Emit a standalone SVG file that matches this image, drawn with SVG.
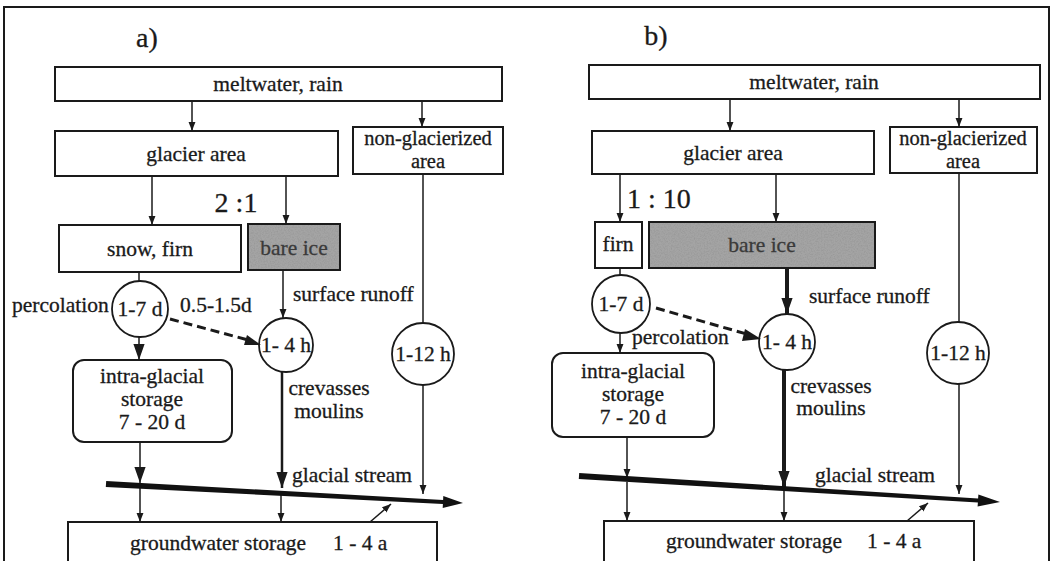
<svg xmlns="http://www.w3.org/2000/svg" width="1054" height="561" viewBox="0 0 1054 561">
<defs>
<style>
.box{fill:#fff;stroke:#1a1a1a;stroke-width:2}
.ice{fill:#a4a4a4;stroke:#1a1a1a;stroke-width:2}
.circ{fill:#fff;stroke:#1a1a1a;stroke-width:1.8}
.t{font-family:"Liberation Serif","Times New Roman",serif;font-size:21.5px;fill:#1a1a1a;stroke:#1a1a1a;stroke-width:0.3}
.m{text-anchor:middle}
.big{font-size:28px}
.ng{font-size:20.5px}
.icet{fill:#3a3a3a;stroke:#3a3a3a}
.ln{stroke:#1a1a1a;stroke-width:1.5;fill:none}
.med{stroke:#1a1a1a;stroke-width:2.5;fill:none}
.thick{stroke:#1a1a1a;stroke-width:4;fill:none}
.dash{stroke:#1a1a1a;stroke-width:3;stroke-dasharray:9 5;fill:none}
.stream{fill:#111;stroke:none}
</style>
<marker id="ah" viewBox="0 0 10 10" refX="10" refY="5" markerWidth="9" markerHeight="9" markerUnits="userSpaceOnUse" orient="auto"><path d="M0,1.2 L10,5 L0,8.8 z" fill="#1a1a1a"/></marker>
<marker id="ahb" viewBox="0 0 10 10" refX="10" refY="5" markerWidth="16" markerHeight="16" markerUnits="userSpaceOnUse" orient="auto"><path d="M0,1.5 L10,5 L0,8.5 z" fill="#1a1a1a"/></marker>
<filter id="grain" x="0" y="0" width="100%" height="100%">
<feTurbulence type="fractalNoise" baseFrequency="0.7" numOctaves="2" seed="5" result="n"/>
<feColorMatrix in="n" type="matrix" values="0 0 0 0 0.3  0 0 0 0 0.3  0 0 0 0 0.3  0 0 0 1.6 -0.6" result="d"/>
<feComposite in="d" in2="SourceGraphic" operator="in"/>
</filter>
</defs>
<rect width="1054" height="561" fill="#fff"/>
<rect id="frame" x="4" y="7" width="1045" height="570" fill="none" stroke="#1a1a1a" stroke-width="2"/>

<!-- Panel a -->
<g id="a-label"><text class="t big" x="147" y="47" text-anchor="middle">a)</text></g>
<g id="a-melt"><rect class="box" x="55" y="67" width="447" height="34"/><text class="t m" x="278" y="91">meltwater, rain</text></g>
<g id="a-glacier"><rect class="box" x="55" y="131" width="283" height="45"/><text class="t m" x="196" y="161">glacier area</text></g>
<g id="a-nonglac"><rect class="box" x="353" y="127" width="150" height="47"/><text class="t m ng" x="428" y="145">non-glacierized</text><text class="t m ng" x="428" y="168">area</text></g>
<g id="a-ratio"><text class="t big" x="236" y="212" text-anchor="middle">2 :1</text></g>
<g id="a-snow"><rect class="box" x="59" y="225" width="182" height="47"/><text class="t m" x="150" y="256">snow, firn</text></g>
<g id="a-ice"><rect class="ice" x="248" y="224" width="92" height="46"/><rect x="249" y="225" width="90" height="44" fill="#fff" filter="url(#grain)"/><text class="t m icet" x="294" y="255">bare ice</text></g>
<g id="a-c17"><circle class="circ" cx="140" cy="309" r="28"/><text class="t m" x="140" y="316">1-7 d</text></g>
<g id="a-c14"><circle class="circ" cx="286" cy="345" r="27"/><text class="t m" x="286" y="352">1- 4 h</text></g>
<g id="a-c112"><circle class="circ" cx="423" cy="354" r="31"/><text class="t m" x="423" y="361">1-12 h</text></g>
<g id="a-intra"><rect class="box" x="73" y="360" width="159" height="82" rx="11"/><text class="t m" x="152" y="383">intra-glacial</text><text class="t m" x="152" y="406">storage</text><text class="t m" x="152" y="429">7 - 20 d</text></g>
<g id="a-ground"><rect class="box" x="68" y="522" width="369" height="50"/><text class="t" x="130" y="550">groundwater storage</text><text class="t" x="333" y="550">1 - 4 a</text></g>
<g id="a-labels">
<text class="t" x="12" y="312">percolation</text>
<text class="t" x="180" y="312">0.5-1.5d</text>
<text class="t" x="293" y="301">surface runoff</text>
<text class="t m" x="329" y="395">crevasses</text>
<text class="t m" x="329" y="418">moulins</text>
<text class="t" x="292" y="482">glacial stream</text>
</g>

<!-- Panel b -->
<g id="b-label"><text class="t big" x="656" y="45" text-anchor="middle">b)</text></g>
<g id="b-melt"><rect class="box" x="589" y="65" width="451" height="34"/><text class="t m" x="814" y="89">meltwater, rain</text></g>
<g id="b-glacier"><rect class="box" x="592" y="131" width="282" height="43"/><text class="t m" x="733" y="160">glacier area</text></g>
<g id="b-nonglac"><rect class="box" x="890" y="127" width="147" height="46"/><text class="t m ng" x="963" y="145">non-glacierized</text><text class="t m ng" x="963" y="168">area</text></g>
<g id="b-ratio"><text class="t big" x="627" y="208">1 : 10</text></g>
<g id="b-firn"><rect class="box" x="595" y="222" width="47" height="46"/><text class="t m" x="618" y="251">firn</text></g>
<g id="b-ice"><rect class="ice" x="649" y="222" width="226" height="46"/><rect x="650" y="223" width="224" height="44" fill="#fff" filter="url(#grain)"/><text class="t m icet" x="762" y="252">bare ice</text></g>
<g id="b-c17"><circle class="circ" cx="621" cy="304" r="29"/><text class="t m" x="621" y="311">1-7 d</text></g>
<g id="b-c14"><circle class="circ" cx="787" cy="342" r="28"/><text class="t m" x="787" y="349">1- 4 h</text></g>
<g id="b-c112"><circle class="circ" cx="958" cy="353" r="31"/><text class="t m" x="958" y="360">1-12 h</text></g>
<g id="b-intra"><rect class="box" x="552" y="353" width="162" height="84" rx="11"/><text class="t m" x="633" y="378">intra-glacial</text><text class="t m" x="633" y="401">storage</text><text class="t m" x="633" y="424">7 - 20 d</text></g>
<g id="b-ground"><rect class="box" x="604" y="521" width="370" height="50"/><text class="t" x="666" y="548">groundwater storage</text><text class="t" x="867" y="548">1 - 4 a</text></g>
<g id="b-labels">
<text class="t" x="809" y="303">surface runoff</text>
<text class="t" x="632" y="344">percolation</text>
<text class="t m" x="831" y="393">crevasses</text>
<text class="t m" x="831" y="415">moulins</text>
<text class="t" x="815" y="482">glacial stream</text>
</g>

<g id="connectors">
<!-- a -->
<line class="ln" x1="192" y1="101" x2="192" y2="131" marker-end="url(#ah)"/>
<line class="ln" x1="422" y1="101" x2="422" y2="127" marker-end="url(#ah)"/>
<line class="ln" x1="152" y1="176" x2="152" y2="225" marker-end="url(#ah)"/>
<line class="ln" x1="286" y1="176" x2="286" y2="224" marker-end="url(#ah)"/>
<line class="ln" x1="423" y1="174" x2="423" y2="323"/>
<line class="ln" x1="139" y1="272" x2="139" y2="281"/>
<line class="ln" x1="283" y1="270" x2="283" y2="318" marker-end="url(#ah)"/>
<path class="dash" d="M170,319 L252,341"/>
<path d="M247,335 L261,345 L244,345 z" fill="#1a1a1a"/>
<line class="ln" x1="139" y1="337" x2="139" y2="360" marker-end="url(#ahb)"/>
<line class="ln" x1="140" y1="442" x2="140" y2="483" marker-end="url(#ahb)"/>
<line class="ln" x1="140" y1="488" x2="140" y2="522" marker-end="url(#ah)"/>
<line class="med" x1="282" y1="372" x2="282" y2="488" marker-end="url(#ahb)"/>
<line class="ln" x1="281" y1="492" x2="281" y2="522" marker-end="url(#ah)"/>
<line class="ln" x1="423" y1="385" x2="423" y2="494" marker-end="url(#ah)"/>
<line class="ln" x1="370" y1="522" x2="391" y2="504" marker-end="url(#ah)"/>
<polygon class="stream" points="106.2,481 443.1,499.9 443.3,495.9 463,503 442.7,507.9 442.9,503.9 105.8,487"/>
<!-- b -->
<line class="ln" x1="730" y1="99" x2="730" y2="131" marker-end="url(#ah)"/>
<line class="ln" x1="959" y1="99" x2="959" y2="127" marker-end="url(#ah)"/>
<line class="ln" x1="620" y1="174" x2="620" y2="222" marker-end="url(#ah)"/>
<line class="ln" x1="776" y1="174" x2="776" y2="222" marker-end="url(#ah)"/>
<line class="ln" x1="959" y1="173" x2="959" y2="322"/>
<line class="ln" x1="620" y1="268" x2="620" y2="275"/>
<line class="thick" x1="787" y1="268" x2="787" y2="314" marker-end="url(#ahb)"/>
<path class="dash" d="M656,308 L750,335"/>
<path d="M745,329 L761,339 L742,341 z" fill="#1a1a1a"/>
<line class="ln" x1="620" y1="333" x2="620" y2="353" marker-end="url(#ah)"/>
<line class="ln" x1="627" y1="437" x2="627" y2="478" marker-end="url(#ah)"/>
<line class="ln" x1="627" y1="482" x2="627" y2="521" marker-end="url(#ah)"/>
<line class="thick" x1="784" y1="370" x2="784" y2="487" marker-end="url(#ahb)"/>
<line class="ln" x1="784" y1="491" x2="784" y2="521" marker-end="url(#ah)"/>
<line class="ln" x1="959" y1="384" x2="959" y2="494" marker-end="url(#ah)"/>
<line class="ln" x1="907" y1="521" x2="928" y2="503" marker-end="url(#ah)"/>
<polygon class="stream" points="579.2,473 978.1,498.6 978.4,494.6 1000,502 977.6,506.6 977.9,502.6 578.8,479"/>
</g>
</svg>
